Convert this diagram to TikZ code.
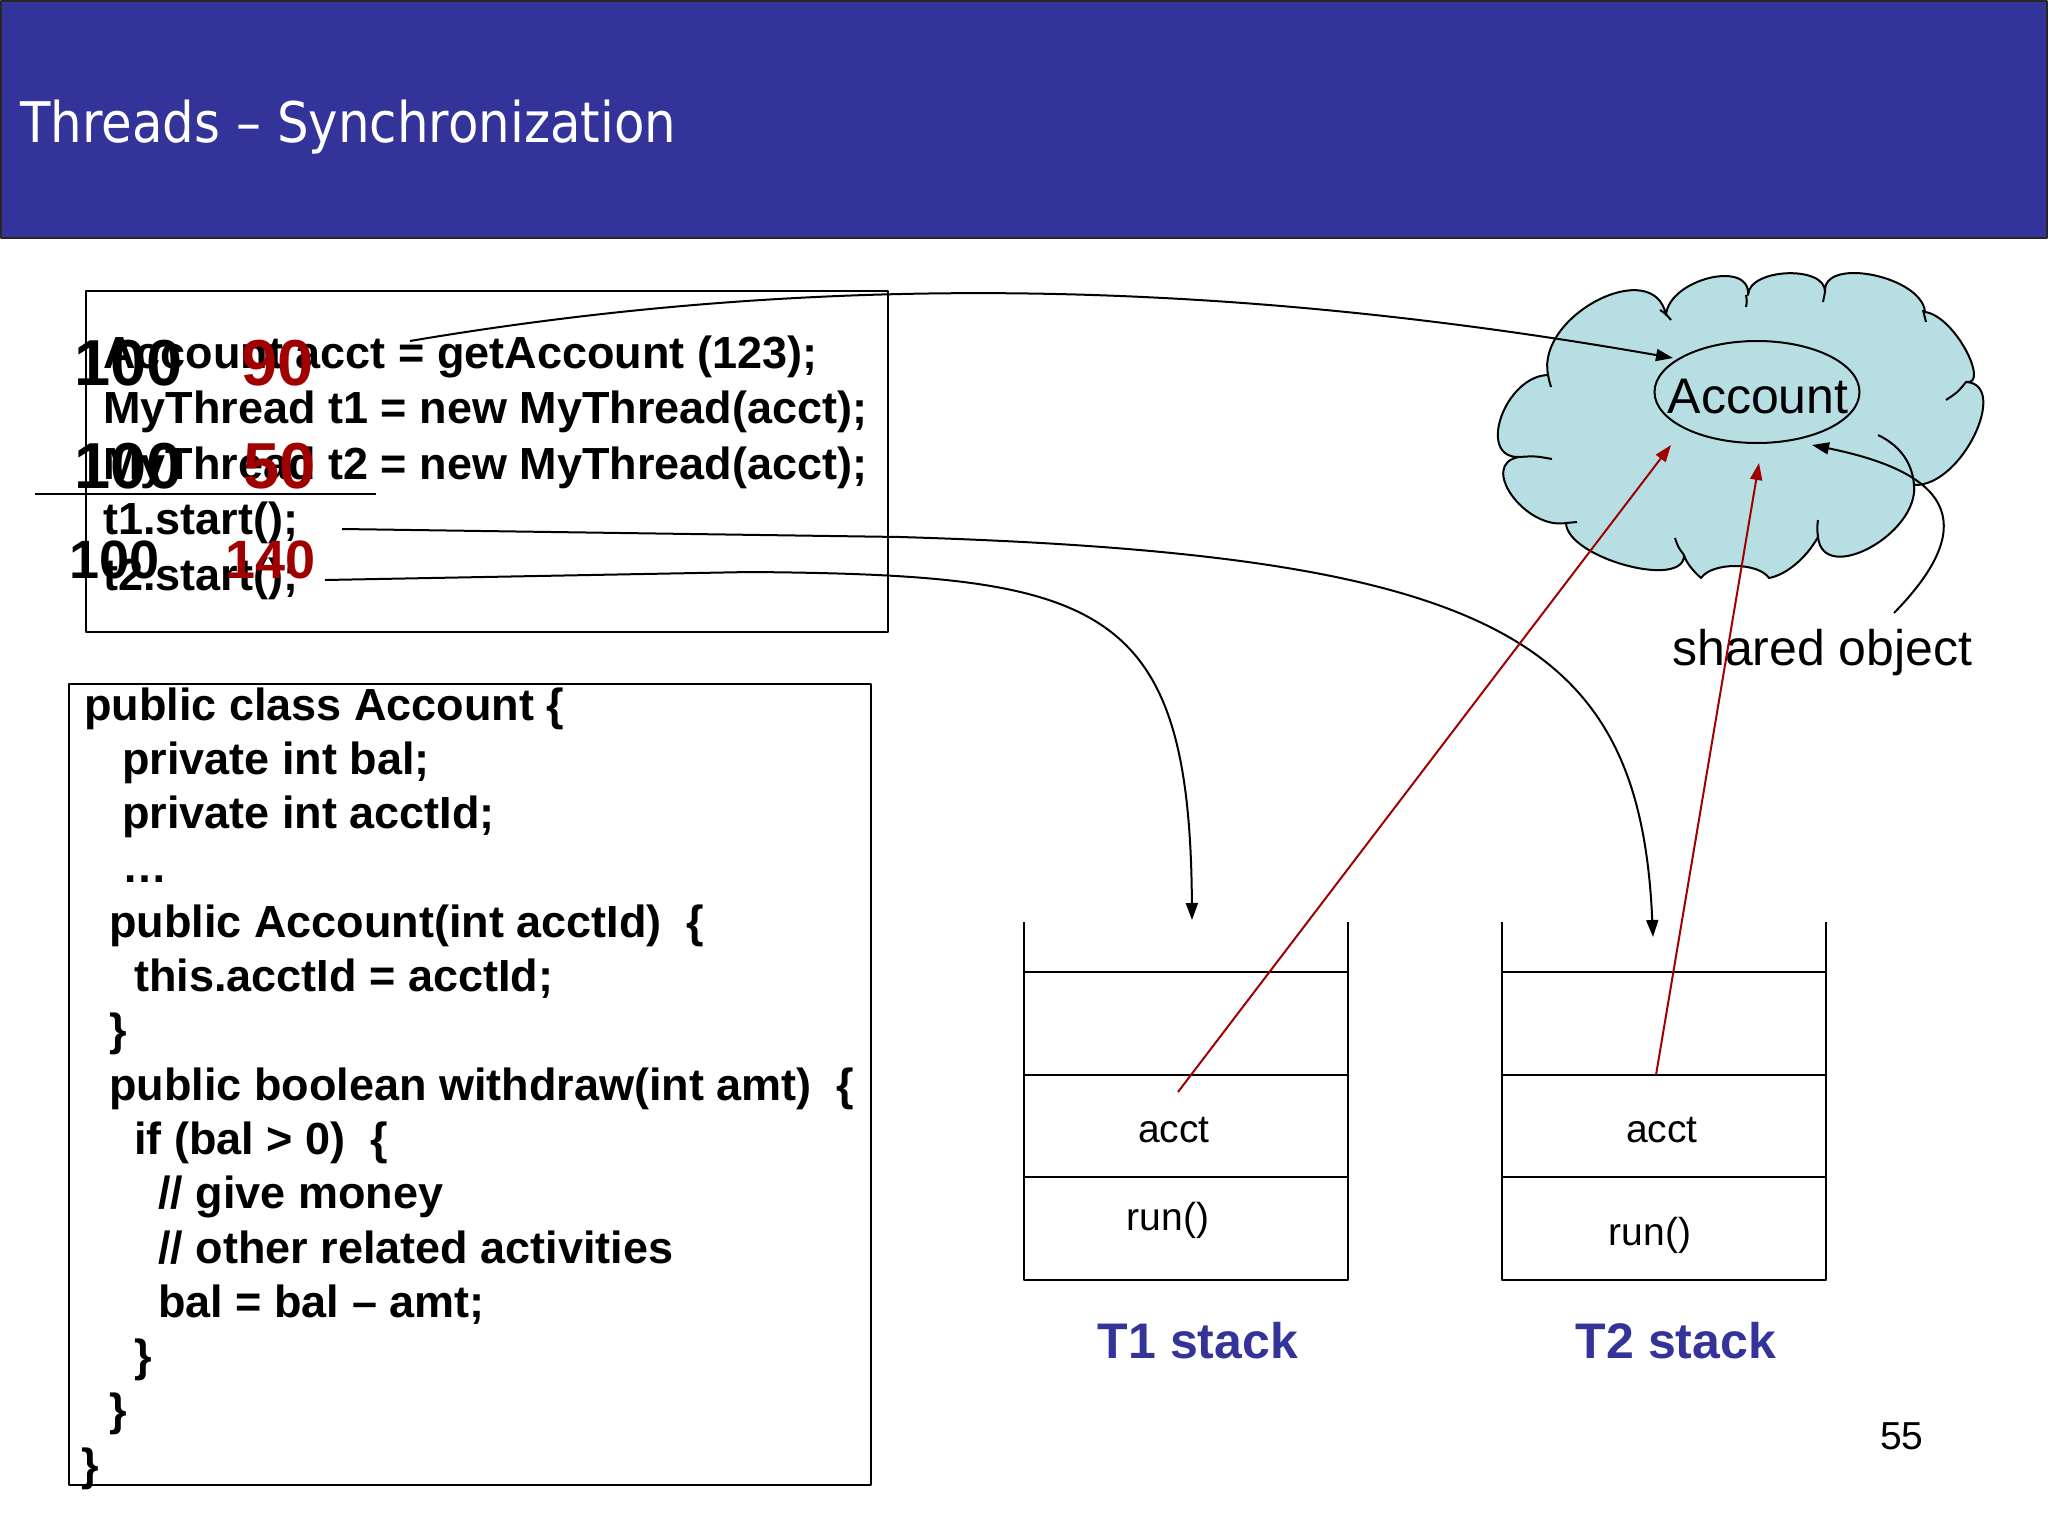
\documentclass[tikz,border=0pt]{standalone}
\usepackage{fontspec}
\setmainfont{Liberation Sans}
\newfontfamily\titlefont{DejaVu Sans}[FakeStretch=0.89]
\usetikzlibrary{arrows.meta,shapes.geometric}
\definecolor{barblue}{RGB}{51,51,153}
\definecolor{darkred}{RGB}{160,0,0}
\definecolor{cloudfill}{RGB}{183,223,227}
\begin{document}
\begin{tikzpicture}[x=1bp,y=-1bp,line join=round,
  code/.style={anchor=base west,inner sep=0,font=\fontsize{45bp}{54bp}\selectfont\bfseries},
  bignum/.style={anchor=base west,inner sep=0,font=\fontsize{65bp}{70bp}\selectfont\bfseries},
  midnum/.style={anchor=base west,inner sep=0,font=\fontsize{54bp}{60bp}\selectfont\bfseries},
  celltext/.style={anchor=base,inner sep=0,font=\fontsize{39bp}{44bp}\selectfont},
  stacklabel/.style={anchor=base,inner sep=0,text=barblue,font=\fontsize{50bp}{56bp}\selectfont\bfseries},
  conn/.style={line width=2bp,-{Triangle[length=17bp,width=12bp]}},
  redconn/.style={line width=2bp,draw=darkred,-{Triangle[length=17bp,width=12bp]},color=darkred},
  boxline/.style={line width=2bp},
  stackline/.style={line width=2.5bp}]
\useasboundingbox (0,0) rectangle (2048,1536);
\fill[white] (0,0) rectangle (2048,1536);
% title bar
\path[fill=barblue,draw=black!85,line width=2bp] (1,1) rectangle (2047,238);
\node[anchor=base west,inner sep=0,text=white,font=\titlefont\fontsize{56bp}{60bp}\selectfont] (title) at (20,143) {Threads – Synchronization};

% code box 1
\node[draw,boxline,anchor=north west,minimum width=802bp,minimum height=341bp,inner sep=0] (box1) at (85,290) {};
\coordinate (hl1) at (35,494);
\coordinate (hl2) at (376,494);
\draw[boxline] (hl1) -- (hl2);
\node[code] (l1) at (103,368) {Account acct = getAccount (123);};
\node[code] (l2) at (103,423) {MyThread t1 = new MyThread(acct);};
\node[code] (l3) at (103,479) {MyThread t2 = new MyThread(acct);};
\node[code] (l4) at (103,534) {t1.start();};
\node[code] (l5) at (103,590) {t2.start();};
\node[bignum] (n1) at (74,385) {100};
\node[bignum,text=darkred] (r1) at (241,385) {90};
\node[bignum] (n2) at (74,488) {100};
\node[bignum,text=darkred] (r2) at (243,488) {50};
\node[midnum] (n3) at (69,578) {100};
\node[midnum,text=darkred] (r3) at (225,578) {140};

% code box 2
\node[draw,boxline,anchor=north west,minimum width=802bp,minimum height=801bp,inner sep=0] (box2) at (68,683) {};
\node[code] (c1) at (84,720) {public class Account \{};
\node[code] (c2) at (122,774.3) {private int bal;};
\node[code] (c3) at (122,828.6) {private int acctId;};
\node[code] (c4) at (122,882.9) {…};
\node[code] (c5) at (109,937.2) {public Account(int acctId)\ \ \{};
\node[code] (c6) at (134,991.5) {this.acctId = acctId;};
\node[code] (c7) at (109,1045.8) {\}};
\node[code] (c8) at (109,1100.1) {public boolean withdraw(int amt)\ \ \{};
\node[code] (c9) at (134,1154.4) {if (bal > 0)\ \ \{};
\node[code] (c10) at (158,1208.7) {// give money};
\node[code] (c11) at (158,1263) {// other related activities};
\node[code] (c12) at (158,1317.3) {bal = bal – amt;};
\node[code] (c13) at (134,1371.6) {\}};
\node[code] (c14) at (109,1425.9) {\}};
\node[code] (c15) at (81,1480.2) {\}};

% cloud
\path[fill=cloudfill,draw=black,line width=2bp]
  (1548,375) .. controls (1536,315) and (1654,255) .. (1666,315)
  .. controls (1669,279) and (1751,259) .. (1748,295)
  .. controls (1749,268) and (1826,265) .. (1825,292)
  .. controls (1822,256) and (1922,276) .. (1925,312)
  .. controls (1955,316) and (1990,386) .. (1966,382)
  .. controls (2010,384) and (1962,487) .. (1914,485)
  .. controls (1919,534) and (1823,586) .. (1818,537)
  .. controls (1805,560) and (1785,575) .. (1769,578)
  .. controls (1758,562) and (1712,562) .. (1701,578)
  .. controls (1692,570) and (1686,562) .. (1684,555)
  .. controls (1685,590) and (1567,558) .. (1566,523)
  .. controls (1525,530) and (1478,464) .. (1519,457)
  .. controls (1476,458) and (1505,376) .. (1548,375) -- cycle;
\draw[line width=2bp]
  (1548,375) .. controls (1549,380) .. (1551,387)
  (1660,310) .. controls (1666,314) .. (1671,320)
  (1746,295) .. controls (1747,301) .. (1746,307)
  (1825,292) .. controls (1824,297) .. (1823,302)
  (1923,310) .. controls (1925,316) .. (1926,322)
  (1966,382) .. controls (1958,392) .. (1946,400)
  (1878,435) .. controls (1905,448) and (1915,470) .. (1914,492)
  (1818,537) .. controls (1817,528) .. (1818,520)
  (1684,555) .. controls (1678,547) .. (1675,538)
  (1566,523) .. controls (1571,522) .. (1577,522)
  (1519,457) .. controls (1535,456) .. (1552,459);

% shared Account object
\node[ellipse,draw,line width=2bp,minimum width=205bp,minimum height=102bp,inner sep=0] (acc) at (1757,392) {};
\node[anchor=base,inner sep=0,font=\fontsize{50bp}{56bp}\selectfont] (acctxt) at (1758,413) {Account};
\node[anchor=base west,inner sep=0,font=\fontsize{50bp}{56bp}\selectfont] (shared) at (1672,665) {shared object};

% stacks
\coordinate (s1tl) at (1024,922);
\coordinate (s1tr) at (1348,922);
\draw[stackline] (s1tl) -- (1024,1280) -- (1348,1280) -- (s1tr);
\draw[stackline] (1024,972) -- (1348,972) (1024,1075) -- (1348,1075) (1024,1177) -- (1348,1177);
\coordinate (s2tl) at (1502,922);
\coordinate (s2tr) at (1826,922);
\draw[stackline] (s2tl) -- (1502,1280) -- (1826,1280) -- (s2tr);
\draw[stackline] (1502,972) -- (1826,972) (1502,1075) -- (1826,1075) (1502,1177) -- (1826,1177);
\node[celltext] (a1) at (1174,1142) {acct};
\node[celltext] (a2) at (1662,1142) {acct};
\node[celltext] (run1) at (1168,1230) {run()};
\node[celltext] (run2) at (1650,1245) {run()};
\node[stacklabel] (lab1) at (1198,1358) {T1 stack};
\node[stacklabel] (lab2) at (1676,1358) {T2 stack};
\node[anchor=base west,inner sep=0,font=\fontsize{39bp}{44bp}\selectfont] (page) at (1880,1449) {55};

% connectors
\coordinate (acctref) at (410,341);
\coordinate (acctip) at (1673,358);
\coordinate (t1ref) at (342,529);
\coordinate (t1mid) at (900,537);
\coordinate (t1tip) at (1653,937);
\coordinate (t2ref) at (325,580);
\coordinate (t2mid) at (750,572);
\coordinate (t2tip) at (1192,920);
\coordinate (s1acct) at (1178,1092);
\coordinate (redtip1) at (1671,445);
\coordinate (s2acct) at (1656,1075);
\coordinate (redtip2) at (1759,463);
\coordinate (sharedref) at (1894,613);
\coordinate (sharedtip) at (1812,445);

\draw[conn] (acctref) .. controls (800,275) and (1200,275) .. (acctip);
\draw[conn] (t1ref) -- (t1mid) .. controls (1500,555) and (1640,640) .. (t1tip);
\draw[conn] (t2ref) -- (t2mid) .. controls (1100,575) and (1190,600) .. (t2tip);
\draw[redconn] (s1acct) -- (redtip1);
\draw[redconn] (s2acct) -- (redtip2);
\draw[conn] (sharedref) .. controls (1975,530) and (1960,475) .. (sharedtip);
\end{tikzpicture}
\end{document}
